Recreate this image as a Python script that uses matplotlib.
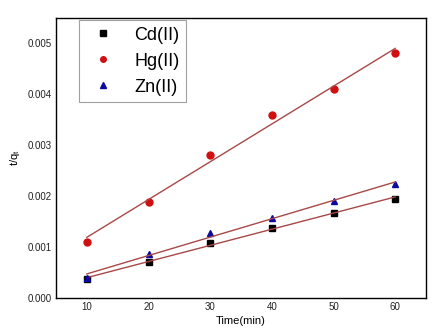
import numpy as np
import matplotlib
matplotlib.use("Agg")
import matplotlib.pyplot as plt

plt.rcParams['font.family'] = ['Liberation Sans', 'DejaVu Sans']

time_min = [10, 20, 30, 40, 50, 60]
cd = [0.00037, 0.00071, 0.00107, 0.00137, 0.00167, 0.00195]
hg = [0.00109, 0.00189, 0.00280, 0.00358, 0.00409, 0.00480]
zn = [0.00040, 0.00086, 0.00127, 0.00157, 0.00190, 0.00224]

fig = plt.figure(figsize=(4.37, 3.32), dpi=100)
ax = fig.add_axes([56/437, 1 - 298/332, (426-56)/437, (298-17.5)/332])

series = [
    ('Cd(II)', cd, 's', 'black'),
    ('Hg(II)', hg, 'o', '#d01010'),
    ('Zn(II)', zn, '^', '#0a0aa0'),
]
x = np.array(time_min)
for name, ys, mk, col in series:
    ax.plot(x, ys, mk, color=col, markersize=5, label=name, linestyle='none')
    # linear fit line
    k, b = np.polyfit(x, ys, 1)
    ax.plot(x, k * x + b, color='#a84848', linewidth=1.0)

ax.set_xlim(5, 65)
ax.set_ylim(0, 0.0055)
ax.set_xticks(time_min)
ax.set_yticks([0, 0.001, 0.002, 0.003, 0.004, 0.005])
ax.set_yticklabels(['0.000', '0.001', '0.002', '0.003', '0.004', '0.005'])
ax.tick_params(length=0, labelsize=7, pad=3, labelcolor='#222222')
for s in ax.spines.values():
    s.set_linewidth(1.0)

ax.set_xlabel('Time(min)', fontsize=8, labelpad=3)
ax.set_ylabel('t/q$_\\mathregular{t}$', fontsize=8, labelpad=4)

leg = ax.legend(loc='upper left', bbox_to_anchor=(0.062, 0.99), fontsize=13,
                frameon=True, fancybox=False, edgecolor='#888888',
                handletextpad=0.7, borderpad=0.35, labelspacing=0.5,
                handlelength=2.0, markerscale=0.8, borderaxespad=0)
leg.get_frame().set_linewidth(0.8)

fig.savefig('out.png', dpi=100)
